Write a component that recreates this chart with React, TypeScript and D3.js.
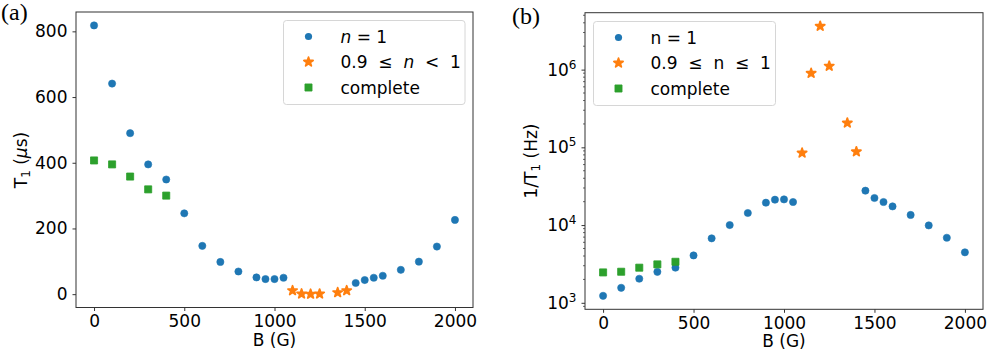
import React, { useRef, useEffect } from 'react';
import * as d3 from 'd3';

// magnetic field values (G)
const fieldFull = [0, 100, 200, 300, 400, 500, 600, 700, 800, 900, 950, 1000, 1050, 1450, 1500, 1550, 1600, 1700, 1800, 1900, 2000];
const fieldPartial = [1100, 1150, 1200, 1250, 1350, 1400];
const fieldComplete = [0, 100, 200, 300, 400];

// panel (a): T1 in microseconds
const t1Full = [818, 641, 490, 395, 349, 246, 147, 98, 69, 51, 46, 46, 50, 34, 43, 50, 56, 74, 99, 145, 226];
const t1Partial = [11, 1, 0.3, 0.9, 5, 11];
const t1Complete = [407, 395, 358, 319, 300];

// panel (b): 1/T1 in Hz
const rateFull = [1230, 1560, 2040, 2500, 2830, 4070, 6750, 10000, 14300, 19400, 21200, 21400, 19800, 27700, 22300, 19800, 17400, 13500, 9900, 6870, 4460];
const ratePartial = [84600, 898000, 3620000, 1110000, 206000, 87900];
const rateComplete = [2460, 2510, 2830, 3120, 3370];

const xTicks = [0, 500, 1000, 1500, 2000];
const t1Ticks = [0, 200, 400, 600, 800];
const rateTicks = [3, 4, 5, 6];

const BLUE = '#1f77b4';
const ORANGE = '#ff7f0e';
const GREEN = '#2ca02c';
const FONT = 'DejaVu Sans, sans-serif';
const FS = 17;

const pad = (lo, hi) => [lo - (hi - lo) * 0.05, hi + (hi - lo) * 0.05];

const App = () => {
  const ref = useRef(null);

  useEffect(() => {
    const svg = d3.select(ref.current);
    svg.selectAll('*').remove();

    const star = d3.symbol().type(d3.symbolStar).size(26);
    const square = d3.symbol().type(d3.symbolSquare).size(50);

    const drawMarks = (g, x, y, xs, ys, kind, color) => {
      const pts = xs.map((b, i) => [b, ys[i]]);
      if (kind === 'circle') {
        g.append('g').selectAll('circle').data(pts).join('circle')
          .attr('cx', d => x(d[0])).attr('cy', d => y(d[1])).attr('r', 3.6)
          .attr('fill', color).attr('stroke', color).attr('stroke-width', 0.6);
      } else {
        g.append('g').selectAll('path').data(pts).join('path')
          .attr('transform', d => `translate(${x(d[0])},${y(d[1])})`)
          .attr('d', kind === 'star' ? star() : square())
          .attr('fill', color).attr('stroke', color)
          .attr('stroke-width', kind === 'star' ? 1.8 : 0.8).attr('stroke-linejoin', 'round');
      }
    };

    const legend = (g, x0, y0, w, labels) => {
      const lg = g.append('g').attr('transform', `translate(${x0},${y0})`);
      lg.append('rect').attr('width', w).attr('height', 84).attr('rx', 3)
        .attr('fill', 'white').attr('fill-opacity', 0.8)
        .attr('stroke', '#d6d6d6').attr('stroke-width', 1);
      const kinds = [['circle', BLUE], ['star', ORANGE], ['square', GREEN]];
      kinds.forEach(([k, c], i) => {
        const cy = 16 + i * 25.5;
        if (k === 'circle') lg.append('circle').attr('cx', 25).attr('cy', cy).attr('r', 3.6).attr('fill', c);
        else lg.append('path').attr('transform', `translate(25,${cy})`).attr('d', k === 'star' ? star() : square())
          .attr('fill', c).attr('stroke', c).attr('stroke-width', k === 'star' ? 1.8 : 0.8).attr('stroke-linejoin', 'round');
        const t = lg.append('text').attr('x', 57).attr('y', cy + 6)
          .attr('font-family', FONT).attr('font-size', FS).style('white-space', 'pre');
        labels[i].forEach(([s, it]) => t.append('tspan').attr('font-style', it ? 'italic' : null).text(s));
      });
    };

    // ---------- panel (a) ----------
    const ga = svg.append('g');
    const xa = d3.scaleLinear().domain(pad(0, 2000)).range([76, 473]);
    const ya = d3.scaleLinear()
      .domain(pad(d3.min([...t1Full, ...t1Partial, ...t1Complete]), d3.max([...t1Full, ...t1Partial, ...t1Complete])))
      .range([307.5, 12]);

    ga.append('g').attr('transform', 'translate(0,307.5)')
      .call(d3.axisBottom(xa).tickValues(xTicks).tickSize(3.5).tickPadding(4).tickFormat(d3.format('d')));
    ga.append('g').attr('transform', 'translate(76,0)')
      .call(d3.axisLeft(ya).tickValues(t1Ticks).tickSize(3.5).tickPadding(5).tickFormat(d3.format('d')));
    ga.append('rect').attr('x', 76).attr('y', 12).attr('width', 397).attr('height', 295.5)
      .attr('fill', 'none').attr('stroke', '#333').attr('stroke-width', 1);

    drawMarks(ga, xa, ya, fieldFull, t1Full, 'circle', BLUE);
    drawMarks(ga, xa, ya, fieldPartial, t1Partial, 'star', ORANGE);
    drawMarks(ga, xa, ya, fieldComplete, t1Complete, 'square', GREEN);

    legend(ga, 283.5, 20.5, 181.5, [
      [['n', true], [' = 1', false]],
      [['0.9  ≤  ', false], ['n', true], ['  <  1', false]],
      [['complete', false]],
    ]);

    ga.append('text').attr('x', 274.5).attr('y', 346).attr('text-anchor', 'middle')
      .attr('font-family', FONT).attr('font-size', FS).text('B (G)');
    const la = ga.append('text').attr('transform', 'translate(27,160) rotate(-90)')
      .attr('text-anchor', 'middle').attr('font-family', FONT).attr('font-size', FS);
    la.append('tspan').text('T');
    la.append('tspan').attr('font-size', 12).attr('dy', 3).text('1');
    la.append('tspan').attr('dy', -3).text(' (');
    la.append('tspan').attr('font-style', 'italic').text('μ');
    la.append('tspan').text('s)');

    svg.append('text').attr('x', 1).attr('y', 20).attr('font-family', 'Liberation Serif, serif')
      .attr('font-size', 24).text('(a)');

    // ---------- panel (b) ----------
    const gb = svg.append('g');
    const xb = d3.scaleLinear().domain(pad(0, 2000)).range([585, 983]);
    const allRates = [...rateFull, ...ratePartial, ...rateComplete];
    const ld = pad(Math.log10(d3.min(allRates)), Math.log10(d3.max(allRates)));
    const yb = d3.scaleLog().domain([10 ** ld[0], 10 ** ld[1]]).range([309.3, 12.7]);

    gb.append('g').attr('transform', 'translate(0,309.3)')
      .call(d3.axisBottom(xb).tickValues(xTicks).tickSize(3.5).tickPadding(4).tickFormat(d3.format('d')));

    // minor ticks on the log axis
    const minors = [];
    for (let e = 2; e <= 6; e++) for (let m = 2; m <= 9; m++) {
      const v = m * 10 ** e;
      if (v > yb.domain()[0] && v < yb.domain()[1]) minors.push(v);
    }
    gb.append('g').selectAll('line').data(minors).join('line')
      .attr('x1', 585).attr('x2', 583).attr('y1', d => yb(d)).attr('y2', d => yb(d))
      .attr('stroke', '#000').attr('stroke-width', 0.6);
    const yt = gb.append('g').attr('transform', 'translate(585,0)')
      .call(d3.axisLeft(yb).tickValues(rateTicks.map(e => 10 ** e)).tickSize(3.5).tickPadding(5).tickFormat(() => ''));
    yt.selectAll('.tick text').each(function (d) {
      const t = d3.select(this);
      t.append('tspan').text('10');
      t.append('tspan').attr('font-size', 12).attr('dy', -7).text(String(Math.round(Math.log10(d))));
    });

    gb.append('rect').attr('x', 585).attr('y', 12.7).attr('width', 398).attr('height', 296.6)
      .attr('fill', 'none').attr('stroke', '#333').attr('stroke-width', 1);

    drawMarks(gb, xb, yb, fieldFull, rateFull, 'circle', BLUE);
    drawMarks(gb, xb, yb, fieldPartial, ratePartial, 'star', ORANGE);
    drawMarks(gb, xb, yb, fieldComplete, rateComplete, 'square', GREEN);

    legend(gb, 593.5, 21.5, 182, [
      [['n = 1', false]],
      [['0.9  ≤  n  ≤  1', false]],
      [['complete', false]],
    ]);

    gb.append('text').attr('x', 784).attr('y', 347).attr('text-anchor', 'middle')
      .attr('font-family', FONT).attr('font-size', FS).text('B (G)');
    const lb = gb.append('text').attr('transform', 'translate(537,161) rotate(-90)')
      .attr('text-anchor', 'middle').attr('font-family', FONT).attr('font-size', FS);
    lb.append('tspan').text('1/T');
    lb.append('tspan').attr('font-size', 12).attr('dy', 3).text('1');
    lb.append('tspan').attr('dy', -3).text(' (Hz)');

    svg.append('text').attr('x', 512).attr('y', 24).attr('font-family', 'Liberation Serif, serif')
      .attr('font-size', 24).text('(b)');

    // shared axis styling
    svg.selectAll('.domain').remove();
    svg.selectAll('.tick line').attr('stroke', '#000').attr('stroke-width', 0.8);
    svg.selectAll('.tick text').attr('font-family', FONT).attr('font-size', FS).attr('fill', '#000');
  }, []);

  return <svg ref={ref} width={997} height={364} style={{ position: 'absolute', left: 0, top: 0, background: '#fff' }} />;
};

export default App;
